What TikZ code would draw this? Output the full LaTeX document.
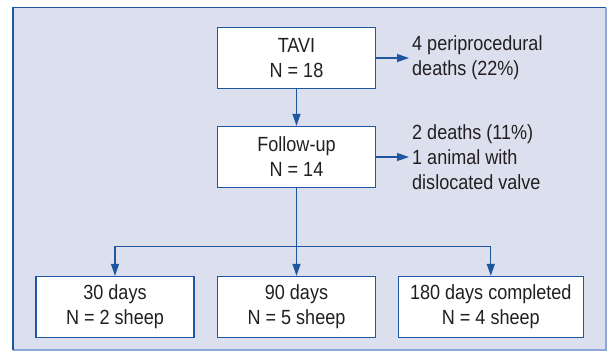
\documentclass[tikz,border=0pt]{standalone}
\usepackage{fontspec}
\setmainfont[FakeStretch=0.88]{Liberation Sans}
\usetikzlibrary{arrows.meta}
\definecolor{panelfill}{HTML}{DCDFEE}
\definecolor{flowblue}{HTML}{1F56A0}
\definecolor{edgelight}{HTML}{8DA8D6}
\definecolor{inkgray}{HTML}{231F20}

\tikzset{
	stagebox/.style={draw=flowblue, line width=1.4pt, fill=white, text=inkgray, align=center,
		minimum height=61pt, inner sep=0pt, font=\fontsize{20.5}{25}\selectfont},
	sidenote/.style={anchor=west, align=left, text=inkgray, inner xsep=3pt, inner ysep=0pt,
		font=\fontsize{20.5}{25}\selectfont},
	flowline/.style={draw=flowblue, line width=1.2pt},
	flow/.style={flowline, -{Triangle[length=12pt,width=8pt]}},
}

\begin{document}
\begin{tikzpicture}[x=1pt, y=-1pt]
		%%%%% PANEL %%%%%
		\useasboundingbox (0,0) rectangle (608,357);
		\fill[panelfill] (13,7.5) rectangle (606,350);
		\draw[edgelight, line width=1.2pt] (13,350) -- (606,350) -- (606,7.5);
		\draw[flowblue, line width=1.8pt] (13,350) -- (13,7.5) -- (606,7.5);
		
		%%%%% TOP %%%%%
		\node[stagebox, minimum width=158pt] (tavi) at (296.5,58) {TAVI\\N = 18};
		\node[sidenote] (peri) at (409,58) {4 periprocedural\\deaths (22\%)};
		\draw[flow] (tavi.east) -- (tavi.east -| peri.west);
		
		\node[stagebox, minimum width=158pt] (fu) at (296.5,157) {Follow-up\\N = 14};
		\draw[flow] (tavi) -- (fu);
		\node[sidenote] (loss) at (409,157) {2 deaths (11\%)\\1 animal with\\dislocated valve};
		\draw[flow] (fu.east) -- (fu.east -| loss.west);
		
		%%%%% BOTTOM %%%%%
		\node[stagebox, minimum width=158pt] (d30) at (115,307) {30 days\\N = 2 sheep};
		\node[stagebox, minimum width=158pt] (d90) at (296.5,307) {90 days\\N = 5 sheep};
		\node[stagebox, minimum width=185pt] (d180) at (490.8,307) {180 days completed\\N = 4 sheep};
		
		\coordinate (split) at (296.5,246.7);
		\draw[flowline] (fu) -- (split);
		\draw[flow] (split) -| (d30.north);
		\draw[flow] (split) -- (d90);
		\draw[flow] (split) -| (d180.north);
		
		%%%%% END %%%%%
	\end{tikzpicture}
\end{document}
